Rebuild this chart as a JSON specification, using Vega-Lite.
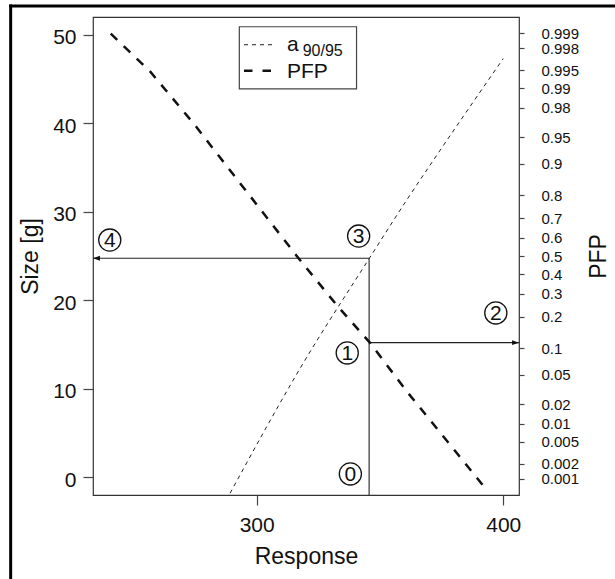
{
  "$schema": "https://vega.github.io/schema/vega-lite/v6.json",
  "width": 426,
  "height": 478,
  "autosize": {"type": "none"},
  "padding": {"left": 93, "top": 17, "right": 96, "bottom": 84},
  "background": "white",
  "config": {
    "font": "Liberation Sans",
    "view": {"stroke": "#333333", "strokeWidth": 1.2},
    "axis": {"grid": false, "domain": false, "tickColor": "#444444", "tickWidth": 1.2, "labelColor": "#111111", "titleColor": "#111111", "labelFont": "Liberation Sans", "titleFont": "Liberation Sans", "titleFontWeight": "normal"}
  },
  "datasets": {
    "a9095": [
      {"response": 289.2, "size": -1.8},
      {"response": 314.8, "size": 10.97},
      {"response": 317.6, "size": 12.3},
      {"response": 345.6, "size": 24.7},
      {"response": 360.8, "size": 31.3},
      {"response": 374.3, "size": 36.9},
      {"response": 400.0, "size": 47.3}
    ],
    "pfp": [
      {"response": 240.8, "pfp_probit": 3.081},
      {"response": 256.75, "pfp_probit": 2.558},
      {"response": 275.0, "pfp_probit": 1.812},
      {"response": 281.1, "pfp_probit": 1.542},
      {"response": 316.9, "pfp_probit": -0.028},
      {"response": 333.0, "pfp_probit": -0.703},
      {"response": 345.9, "pfp_probit": -1.201},
      {"response": 361.3, "pfp_probit": -1.894},
      {"response": 393.0, "pfp_probit": -3.229}
    ],
    "guides": [
      {"response": 345.6, "response2": 345.6, "size": -2, "size2": 24.74},
      {"response": 233.6, "response2": 345.6, "size": 24.74, "size2": 24.74},
      {"response": 345.6, "response2": 406.4, "size": 15.21, "size2": 15.21}
    ],
    "arrowheads": [
      {"response": 235.0, "size": 24.74, "dir": "left"},
      {"response": 405.0, "size": 15.21, "dir": "right"}
    ],
    "steps": [
      {"label": "0", "response": 338.0, "size": 0.38},
      {"label": "1", "response": 336.73, "size": 14.05},
      {"label": "2", "response": 397.0, "size": 18.57},
      {"label": "3", "response": 341.35, "size": 27.25},
      {"label": "4", "response": 240.4, "size": 26.8}
    ],
    "frame": [
      {"response": 200.2, "response2": 200.2, "size": 53.24, "size2": -25},
      {"response": 200.2, "response2": 520, "size": 53.24, "size2": 53.24}
    ]
  },
  "layer": [
    {
      "layer": [
        {
          "data": {"name": "frame"},
          "mark": {"type": "rule", "stroke": "black", "strokeWidth": 3, "strokeCap": "square", "clip": false},
          "encoding": {
            "x": {"field": "response", "type": "quantitative", "scale": {"domain": [233.6, 406.4], "nice": false, "zero": false}},
            "x2": {"field": "response2"},
            "y": {"field": "size", "type": "quantitative", "scale": {"domain": [-2, 52], "nice": false, "zero": false}},
            "y2": {"field": "size2"}
          }
        },
        {
          "data": {"name": "a9095"},
          "mark": {"type": "line", "color": "#222222", "strokeWidth": 1, "strokeDash": [4, 4], "interpolate": "monotone", "clip": true},
          "encoding": {
            "x": {"field": "response", "type": "quantitative", "scale": {"domain": [233.6, 406.4], "nice": false, "zero": false},
                  "axis": {"values": [300, 400], "title": "Response", "labelFontSize": 21, "titleFontSize": 23, "tickSize": 10, "labelPadding": 9, "titlePadding": 10}},
            "y": {"field": "size", "type": "quantitative", "scale": {"domain": [-2, 52], "nice": false, "zero": false},
                  "axis": {"values": [0, 10, 20, 30, 40, 50], "title": "Size [g]", "orient": "left", "labelFontSize": 21, "titleFontSize": 23, "tickSize": 10, "labelPadding": 7, "labelOffset": 3, "titlePadding": 10}}
          }
        },
        {
          "data": {"name": "guides"},
          "mark": {"type": "rule", "color": "#222222", "strokeWidth": 1.1},
          "encoding": {
            "x": {"field": "response", "type": "quantitative", "scale": {"domain": [233.6, 406.4], "nice": false, "zero": false}},
            "x2": {"field": "response2"},
            "y": {"field": "size", "type": "quantitative", "scale": {"domain": [-2, 52], "nice": false, "zero": false}},
            "y2": {"field": "size2"}
          }
        },
        {
          "data": {"name": "arrowheads"},
          "mark": {"type": "point", "filled": true, "color": "#111111", "opacity": 1, "size": 49},
          "encoding": {
            "x": {"field": "response", "type": "quantitative", "scale": {"domain": [233.6, 406.4], "nice": false, "zero": false}},
            "y": {"field": "size", "type": "quantitative", "scale": {"domain": [-2, 52], "nice": false, "zero": false}},
            "shape": {"field": "dir", "type": "nominal", "scale": {"domain": ["left", "right"], "range": ["M-1,0L1,-0.7L1,0.7Z", "M1,0L-1,-0.7L-1,0.7Z"]}, "legend": null}
          }
        },
        {
          "data": {"name": "steps"},
          "mark": {"type": "point", "shape": "circle", "filled": false, "stroke": "#111111", "strokeWidth": 1.3, "opacity": 1, "size": 490},
          "encoding": {
            "x": {"field": "response", "type": "quantitative", "scale": {"domain": [233.6, 406.4], "nice": false, "zero": false}},
            "y": {"field": "size", "type": "quantitative", "scale": {"domain": [-2, 52], "nice": false, "zero": false}}
          }
        },
        {
          "data": {"name": "steps"},
          "mark": {"type": "text", "fontSize": 21, "align": "center", "baseline": "middle", "color": "#111111", "dy": 1},
          "encoding": {
            "x": {"field": "response", "type": "quantitative", "scale": {"domain": [233.6, 406.4], "nice": false, "zero": false}},
            "y": {"field": "size", "type": "quantitative", "scale": {"domain": [-2, 52], "nice": false, "zero": false}},
            "text": {"field": "label"}
          }
        },
        {
          "data": {"values": [{"response": 292.95, "response2": 340.5, "size": 50.9, "size2": 43.87}]},
          "mark": {"type": "rect", "fill": "white", "stroke": "#444444", "strokeWidth": 1.2},
          "encoding": {
            "x": {"field": "response", "type": "quantitative", "scale": {"domain": [233.6, 406.4], "nice": false, "zero": false}},
            "x2": {"field": "response2"},
            "y": {"field": "size", "type": "quantitative", "scale": {"domain": [-2, 52], "nice": false, "zero": false}},
            "y2": {"field": "size2"}
          }
        },
        {
          "data": {"values": [{"response": 294.85, "response2": 307.8, "size": 48.87}]},
          "mark": {"type": "rule", "color": "#222222", "strokeWidth": 1, "strokeDash": [4, 4]},
          "encoding": {
            "x": {"field": "response", "type": "quantitative", "scale": {"domain": [233.6, 406.4], "nice": false, "zero": false}},
            "x2": {"field": "response2"},
            "y": {"field": "size", "type": "quantitative", "scale": {"domain": [-2, 52], "nice": false, "zero": false}}
          }
        },
        {
          "data": {"values": [{"response": 294.85, "response2": 307.8, "size": 45.94}]},
          "mark": {"type": "rule", "color": "#111111", "strokeWidth": 2.5, "strokeDash": [8.5, 10]},
          "encoding": {
            "x": {"field": "response", "type": "quantitative", "scale": {"domain": [233.6, 406.4], "nice": false, "zero": false}},
            "x2": {"field": "response2"},
            "y": {"field": "size", "type": "quantitative", "scale": {"domain": [-2, 52], "nice": false, "zero": false}}
          }
        },
        {
          "data": {"values": [{"t": "a", "response": 312.3, "size": 48.2}, {"t": "PFP", "response": 312.3, "size": 45.12}]},
          "mark": {"type": "text", "fontSize": 21, "align": "left", "baseline": "alphabetic", "color": "#111111"},
          "encoding": {
            "x": {"field": "response", "type": "quantitative", "scale": {"domain": [233.6, 406.4], "nice": false, "zero": false}},
            "y": {"field": "size", "type": "quantitative", "scale": {"domain": [-2, 52], "nice": false, "zero": false}},
            "text": {"field": "t"}
          }
        },
        {
          "data": {"values": [{"t": "90/95", "response": 318.65, "size": 47.55}]},
          "mark": {"type": "text", "fontSize": 16, "align": "left", "baseline": "alphabetic", "color": "#111111"},
          "encoding": {
            "x": {"field": "response", "type": "quantitative", "scale": {"domain": [233.6, 406.4], "nice": false, "zero": false}},
            "y": {"field": "size", "type": "quantitative", "scale": {"domain": [-2, 52], "nice": false, "zero": false}},
            "text": {"field": "t"}
          }
        }
      ]
    },
    {
      "layer": [
        {
          "data": {"name": "pfp"},
          "mark": {"type": "line", "color": "#111111", "strokeWidth": 2.5, "strokeDash": [9, 9], "clip": true},
          "encoding": {
            "x": {"field": "response", "type": "quantitative", "scale": {"domain": [233.6, 406.4], "nice": false, "zero": false}},
            "y": {"field": "pfp_probit", "type": "quantitative", "scale": {"domain": [-3.312, 3.312], "nice": false, "zero": false},
                  "axis": {"orient": "right", "title": "PFP", "titleAngle": 270, "titleFontSize": 23, "titlePadding": 32,
                           "values": [-3.090232, -2.878162, -2.575829, -2.326348, -2.053749, -1.644854, -1.281552, -0.841621, -0.524401, -0.253347, 0, 0.253347, 0.524401, 0.841621, 1.281552, 1.644854, 2.053749, 2.326348, 2.575829, 2.878162, 3.090232],
                           "labelExpr": "format(cumulativeNormal(datum.value), '.3~f')",
                           "labelFontSize": 15, "labelAlign": "left", "labelPadding": 17, "tickSize": 5, "labelOverlap": false}}
          }
        }
      ]
    }
  ],
  "resolve": {"scale": {"y": "independent"}}
}
